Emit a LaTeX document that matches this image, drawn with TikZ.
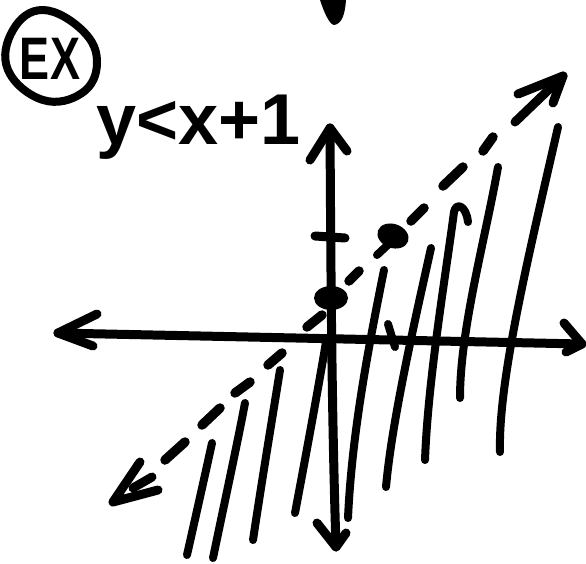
\documentclass[tikz,border=0pt]{standalone}
\usepackage{fontspec}
\setmainfont{Liberation Sans}
\begin{document}
\begin{tikzpicture}[x=1pt,y=-1pt,
  ink/.style={line width=9pt, line cap=round, line join=round},
  hatch/.style={line width=8pt, line cap=round, line join=round},
  dashseg/.style={line width=9.5pt, line cap=round},
  dotmark/.style={fill=black}]
\useasboundingbox (0,0) rectangle (586,563);
% top blob
\fill (320,0) .. controls (324,12) and (329,24) .. (334,25) .. controls (342,24) and (345,14) .. (346,0) -- cycle;
% circled EX
\node[font=\fontsize{60}{60}\selectfont\bfseries, xscale=0.75, inner sep=0pt] (ex) at (50,59) {EX};
\draw[line width=8pt] plot[smooth cycle, tension=0.7] coordinates {(43,10) (83,31) (97,63) (82,93) (43,100) (8,70) (13,30)};
% inequality text
\node[font=\fontsize{72}{72}\selectfont\bfseries, anchor=base west, inner sep=0pt] (ineq) at (96,144) {y<x+1};
% axes
\coordinate (xl) at (58,333);
\coordinate (xr) at (582,344);
\coordinate (yt) at (330,128);
\coordinate (yb) at (336,547);
\draw[ink] (xl) -- (xr);
\draw[ink] (97,314) -- (xl) -- (93,346);
\draw[ink] (564,323) -- (xr) -- (566,352);
\draw[ink] (yt) .. controls (331,300) and (332,420) .. (yb);
\draw[ink] (310,160) -- (yt) -- (347,151);
\draw[ink] (317,523) -- (yb) -- (346,533);
% ticks
\draw[ink] (315,236) -- (345,238);
\draw[hatch] (388,324) -- (395,347);
% points
\fill[dotmark] (331,298) ellipse [x radius=17, y radius=12];
\fill[dotmark, rotate around={-20:(393,236)}] (393,236) ellipse [x radius=16, y radius=12];
\draw[hatch] (393,240) -- (377,255);
% dashed boundary line
\coordinate (dl) at (113,502);
\coordinate (du) at (563,76);
\draw[ink] (140,462) -- (dl) -- (158,490);
\draw[ink] (133,488) -- (152,477);
\foreach \ax/\ay/\bx/\by in {165/460/185/442, 202/425/220/408, 235/393/250/382,
  268/365/282/353, 307/327/322/315, 349/281/359/271, 411/221/424/208,
  443/186/463/167, 483/151/493/137}
  \draw[dashseg] (\ax,\ay) -- (\bx,\by);
\draw[ink] (515,122) -- (du);
\draw[ink] (518,94) -- (du) -- (553,103);
% shading lines
\draw[hatch] (187,555) .. controls (196,515) and (205,475) .. (212,443);
\draw[hatch] (213,558) .. controls (224,505) and (236,450) .. (245,403);
\draw[hatch] (253,540) .. controls (262,480) and (272,420) .. (280,370);
\draw[hatch] (295,513) .. controls (305,460) and (318,390) .. (326,342);
\draw[hatch] (348,518) .. controls (352,430) and (370,340) .. (384,270);
\draw[hatch] (386,487) .. controls (392,420) and (415,320) .. (431,248);
\draw[hatch] (425,460) .. controls (428,380) and (445,280) .. (454,212) .. controls (456,202) and (466,205) .. (468,222);
\draw[hatch] (460,398) .. controls (460,330) and (485,240) .. (498,167);
\draw[hatch] (500,452) .. controls (498,380) and (530,250) .. (558,127);
\end{tikzpicture}
\end{document}
